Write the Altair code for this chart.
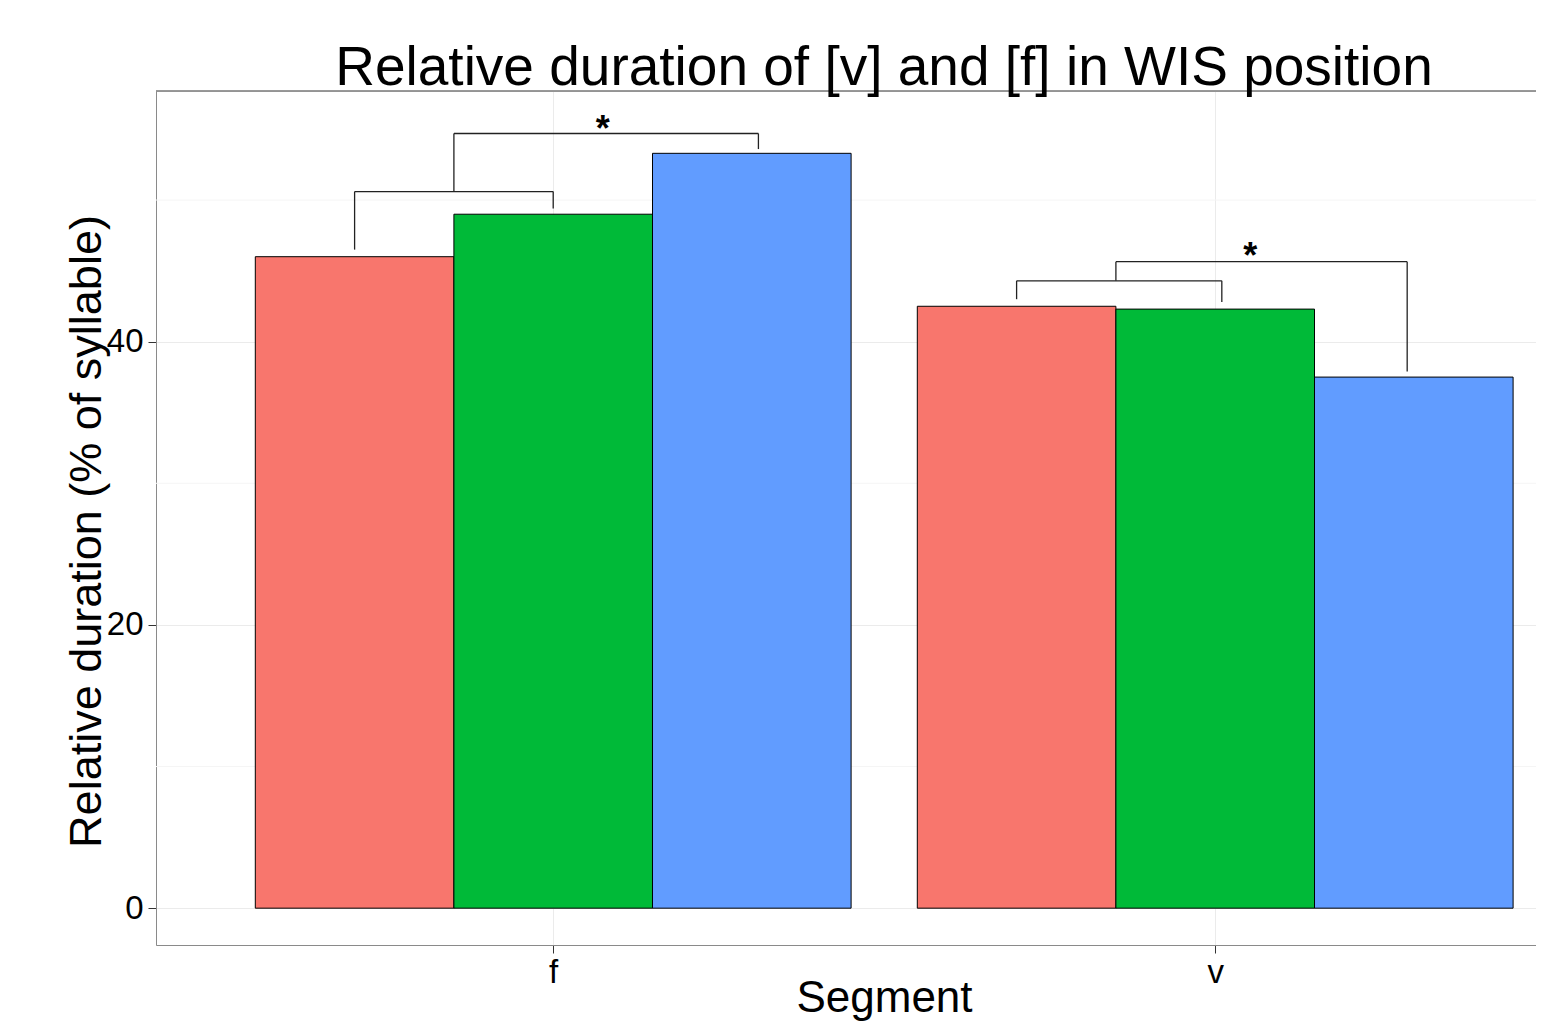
import json
import altair as alt
import pandas as pd

# ---- data ----
segments = ["f", "v"]
groups = ["g1", "g2", "g3"]
values_f = [46.0, 49.0, 53.3]
values_v = [42.5, 42.3, 37.5]
colors = ["#F8766D", "#00BA38", "#619CFF"]
offsets = [-0.3, 0.0, 0.3]
bar_half = 0.15

# significance brackets (left x, right x, top y, left-leg bottom, right-leg bottom)
br_xl = [0.70, 0.85, 1.70, 1.85]
br_xr = [1.00, 1.31, 2.01, 2.29]
br_top = [50.6, 54.7, 44.3, 45.65]
br_lbot = [46.5, 50.6, 43.0, 44.3]
br_rbot = [49.4, 53.6, 42.8, 37.9]
star_x = [1.075, 2.053]
star_y = [54.2, 45.2]
star_txt = ["*", "*"]

major_ticks = [0, 20, 40]
minor_ticks = [10, 30, 50]

FONT = "Liberation Sans"
W, H = 1380, 854

# ---- tables ----
rows = []
for si, (seg, vals) in enumerate(zip(segments, [values_f, values_v]), start=1):
    for g, off, v in zip(groups, offsets, vals):
        rows.append({"segment": seg, "group": g,
                     "x0": si + off - bar_half, "x1": si + off + bar_half,
                     "value": v, "base": 0})
bars_df = pd.DataFrame(rows)

segs = []
for xl, xr, yt, yl, yr in zip(br_xl, br_xr, br_top, br_lbot, br_rbot):
    segs.append({"xa": xl, "xb": xr, "ya": yt, "yb": yt})
    segs.append({"xa": xl, "xb": xl, "ya": yt, "yb": yl})
    segs.append({"xa": xr, "xb": xr, "ya": yt, "yb": yr})
seg_df = pd.DataFrame(segs)
star_df = pd.DataFrame({"x": star_x, "y": star_y, "t": star_txt})
minor_df = pd.DataFrame({"y": minor_ticks})

xscale = alt.Scale(domain=[0.4, 0.4 + W / 662.0], nice=False, zero=False)
yscale = alt.Scale(domain=[-2.6, 57.7], nice=False, zero=False)

xaxis = alt.Axis(values=[1, 2], labelExpr=f"{json.dumps(segments)}[datum.value - 1]",
                 title="Segment", titleFont=FONT, titleFontSize=44, titleFontWeight="normal",
                 titleColor="black", titleX=728, titleY=66, titleAlign="center",
                 titleBaseline="alphabetic",
                 labelFont=FONT, labelFontSize=33, labelColor="black", labelPadding=3,
                 tickSize=8, tickColor="#333333", tickWidth=1,
                 domainColor="#8a8a8a", domainWidth=1, grid=True, gridColor="#ebebeb")
yaxis = alt.Axis(values=major_ticks, title="Relative duration (% of syllable)",
                 titleFont=FONT, titleFontSize=45, titleFontWeight="normal", titleColor="black",
                 titleAngle=270, titleX=-70, titleY=440, titleAlign="center",
                 titleBaseline="middle",
                 labelFont=FONT, labelFontSize=33, labelColor="black", labelPadding=5,
                 tickSize=8, tickColor="#333333", tickWidth=1,
                 domainColor="#8a8a8a", domainWidth=1, grid=True, gridColor="#ebebeb")

minor = alt.Chart(minor_df).mark_rule(color="#f5f5f5", strokeWidth=1).encode(
    y=alt.Y("y:Q", scale=yscale, axis=yaxis))

bars = alt.Chart(bars_df).mark_rect(stroke="black", strokeWidth=1).encode(
    x=alt.X("x0:Q", scale=xscale, axis=xaxis),
    x2="x1:Q",
    y=alt.Y("base:Q", scale=yscale, axis=yaxis),
    y2="value:Q",
    color=alt.Color("group:N", scale=alt.Scale(domain=groups, range=colors), legend=None),
)

brackets = alt.Chart(seg_df).mark_rule(color="#222222", strokeWidth=1.3).encode(
    x=alt.X("xa:Q", scale=xscale, axis=xaxis), x2="xb:Q",
    y=alt.Y("ya:Q", scale=yscale, axis=yaxis), y2="yb:Q")

stars = alt.Chart(star_df).mark_text(font=FONT, fontSize=36, fontWeight="bold",
                                     baseline="alphabetic", align="center",
                                     color="black").encode(
    x=alt.X("x:Q", scale=xscale, axis=xaxis),
    y=alt.Y("y:Q", scale=yscale, axis=yaxis), text="t:N")

top_border = alt.Chart(minor_df).mark_rule(color="#8a8a8a", strokeWidth=1).encode(
    x=alt.value(0), x2=alt.value(W), y=alt.value(0))

chart = alt.layer(minor, bars, brackets, stars, top_border).properties(
    width=W, height=H,
    autosize=alt.AutoSizeParams(type="none"),
    padding={"left": 148, "top": 83, "right": 0, "bottom": 76},
    title=alt.TitleParams("Relative duration of [v] and [f] in WIS position",
                          font=FONT, fontSize=55, fontWeight="normal", color="black",
                          anchor="middle", frame="group", baseline="alphabetic",
                          offset=3, dx=38, dy=52),
).configure_view(stroke=None).configure(background="white")

chart.save("out.html", embed_options={"renderer": "svg", "actions": False})
